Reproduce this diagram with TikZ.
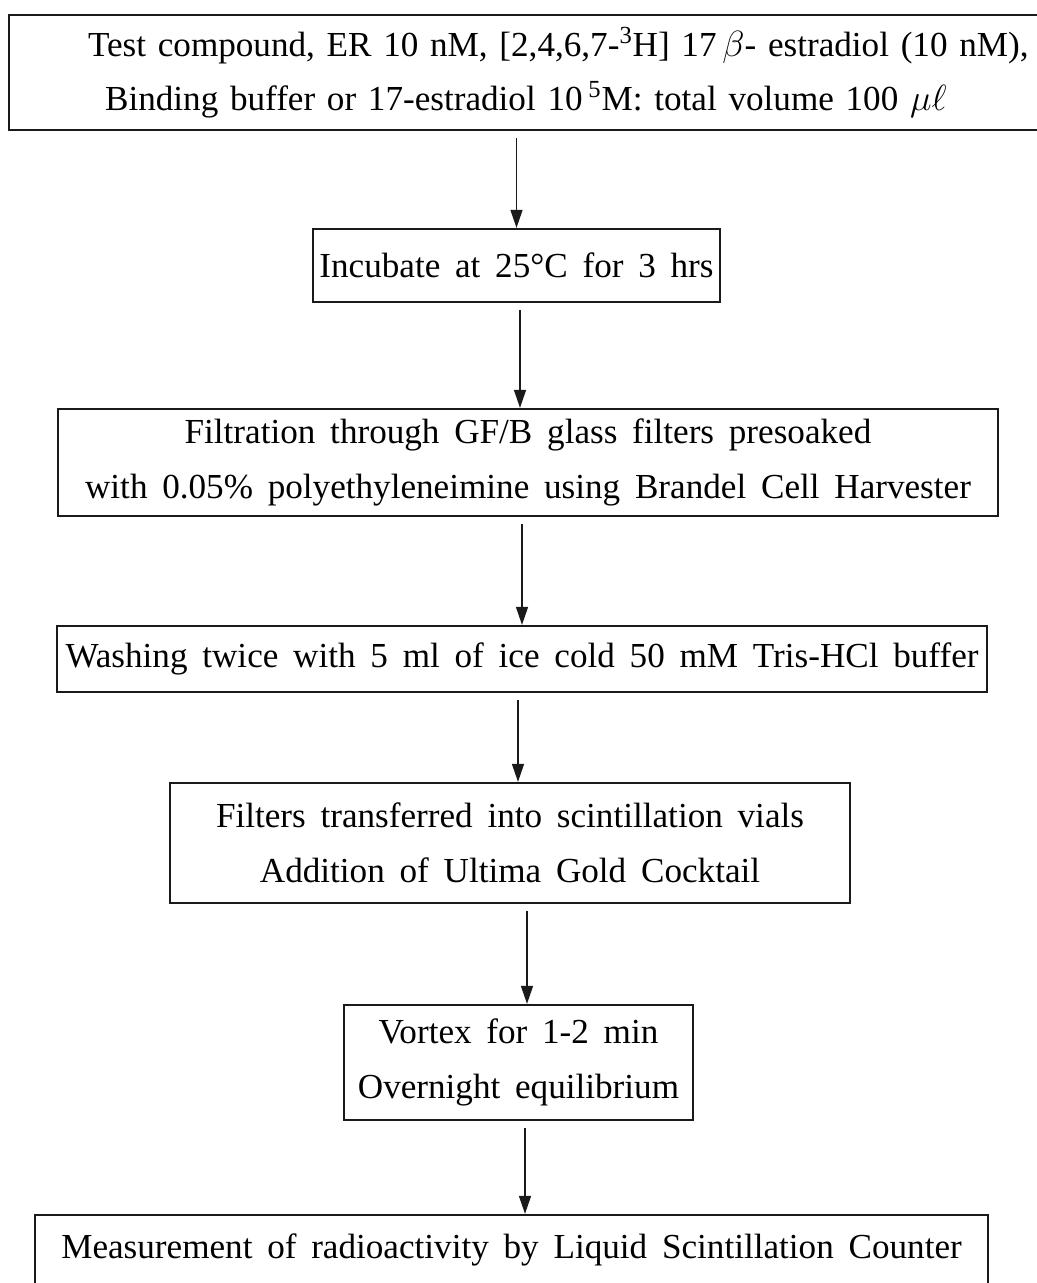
\documentclass[tikz,border=0pt]{standalone}
\usepackage{fontspec}
\setmainfont{Liberation Serif}
\usepackage{xcolor}
\definecolor{lineDark}{HTML}{1A1A1A}
\usepackage{tikz}
\usetikzlibrary{arrows.meta,positioning}
\DeclareRobustCommand\stepFont{\fontsize{20}{31}\selectfont\spaceskip=0.42em plus 0.1em\relax}
\tikzset{%
  stepBox/.style={%
    rectangle,
    draw=lineDark,
    line width=1.3pt,
    align=center,
    inner sep=0pt,
    font=\stepFont
  },
  flowArrow/.style={%
    -{Triangle[length=0.36cm,width=0.24cm]},
    line width=0.8pt,
    color=lineDark,
    shorten <=0.14cm
  }
}

\begin{document}
\begin{tikzpicture}[x=0.02cm,y=-0.02cm]
  \useasboundingbox (0,0) rectangle (1036,1283);

  \node[stepBox, minimum width=22.36cm, minimum height=2.3cm, text width=19.2cm, align=left] (mixture) at (568,72.5)
    {Test compound, ER 10 nM, [2,4,6,7-\textsuperscript{3}H] 17\,$\beta$- estradiol (10 nM),\\
     \hspace*{0.34cm}Binding buffer or 17-estradiol 10\,\textsuperscript{5}M: total volume 100 $\mu\ell$};
  \node[stepBox, minimum width=8.14cm, minimum height=1.46cm] (incubate) at (516.5,265.5)
    {Incubate at 25°C for 3 hrs};
  \node[stepBox, minimum width=18.8cm, minimum height=2.14cm] (filtration) at (528,462.5)
    {Filtration through GF/B glass filters presoaked\\with 0.05\% polyethyleneimine using Brandel Cell Harvester};
  \node[stepBox, minimum width=18.6cm, minimum height=1.32cm] (washing) at (522,659)
    {Washing twice with 5 ml of ice cold 50 mM Tris-HCl buffer};
  \node[stepBox, minimum width=13.6cm, minimum height=2.4cm] (vials) at (510,843)
    {Filters transferred into scintillation vials\\Addition of Ultima Gold Cocktail};
  \node[stepBox, minimum width=6.98cm, minimum height=2.3cm] (vortex) at (518.5,1062.5)
    {Vortex for 1-2 min\\Overnight equilibrium};
  \node[stepBox, minimum width=19.06cm, minimum height=1.4cm] (counter) at (511.5,1250)
    {Measurement of radioactivity by Liquid Scintillation Counter};

  \draw[flowArrow] (incubate.north |- mixture.south) -- (incubate.north);
  \draw[flowArrow] ([xshift=0.07cm]incubate.south) -- ([xshift=0.07cm]incubate.south |- filtration.north);
  \draw[flowArrow] (washing.north |- filtration.south) -- (washing.north);
  \draw[flowArrow] ([xshift=-0.08cm]washing.south) -- ([xshift=-0.08cm]washing.south |- vials.north);
  \draw[flowArrow] ([xshift=0.17cm]vortex.north |- vials.south) -- ([xshift=0.17cm]vortex.north);
  \draw[flowArrow] ([xshift=0.13cm]vortex.south) -- ([xshift=0.13cm]vortex.south |- counter.north);
\end{tikzpicture}
\end{document}
